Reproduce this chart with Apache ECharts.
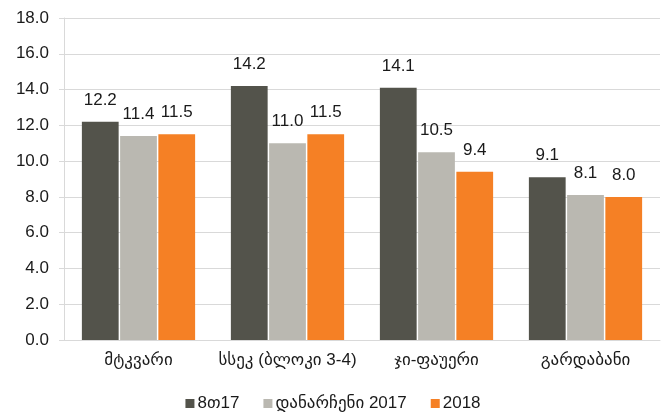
<!DOCTYPE html>
<html>
<head>
<meta charset="utf-8">
<script src="https://cdn.jsdelivr.net/npm/echarts@6/dist/echarts.min.js"></script>
<style>
html, body { margin: 0; padding: 0; background: #fff; }
#main { width: 666px; height: 420px; }
</style>
</head>
<body>
<div id="main"></div>
<script>
// chart data
var categories = ['მტკვარი', 'სსეკ (ბლოკი 3-4)', 'ჯი-ფაუერი', 'გარდაბანი'];
var seriesNames = ['8თ17', 'დანარჩენი 2017', '2018'];
var values8t17 = [12.2, 14.2, 14.1, 9.1];
var valuesOther2017 = [11.4, 11.0, 10.5, 8.1];
var values2018 = [11.5, 11.5, 9.4, 8.0];
var colors = ['#53534b', '#bab8b1', '#f58025'];

var font = '"Liberation Sans", "DejaVu Sans", Arial, sans-serif';
var chart = echarts.init(document.getElementById('main'));

function makeSeries(name, data, color) {
    return {
        name: name,
        type: 'bar',
        data: data,
        barGap: '4%',
        barCategoryGap: '24%',
        itemStyle: { color: color },
        label: {
            show: true,
            position: 'top',
            distance: 13,
            color: '#1a1a1a',
            fontSize: 17,
            fontFamily: font,
            formatter: function (p) { return p.value.toFixed(1); }
        }
    };
}

chart.setOption({
    animation: false,
    color: colors,
    grid: { left: 64, right: 6, top: 18, bottom: 80 },
    legend: {
        bottom: 3,
        itemWidth: 9,
        itemHeight: 9,
        itemGap: 24,
        icon: 'rect',
        textStyle: { fontSize: 17, color: '#1a1a1a', fontFamily: font, padding: [0, 0, 0, -2] },
        data: seriesNames
    },
    xAxis: {
        type: 'category',
        data: categories,
        axisLine: { show: true, lineStyle: { color: '#d9d9d9' } },
        axisTick: { show: false },
        axisLabel: { interval: 0, fontSize: 17, color: '#1a1a1a', fontFamily: font, margin: 12 }
    },
    yAxis: {
        type: 'value',
        min: 0,
        max: 18,
        interval: 2,
        axisLine: { show: true, lineStyle: { color: '#d9d9d9' } },
        axisTick: { show: true, length: 5, lineStyle: { color: '#d9d9d9' } },
        splitLine: { lineStyle: { color: '#d9d9d9' } },
        axisLabel: {
            fontSize: 17,
            color: '#1a1a1a',
            fontFamily: font,
            margin: 15,
            formatter: function (v) { return v.toFixed(1); }
        }
    },
    series: [
        makeSeries(seriesNames[0], values8t17, colors[0]),
        makeSeries(seriesNames[1], valuesOther2017, colors[1]),
        makeSeries(seriesNames[2], values2018, colors[2])
    ]
});
</script>
</body>
</html>
